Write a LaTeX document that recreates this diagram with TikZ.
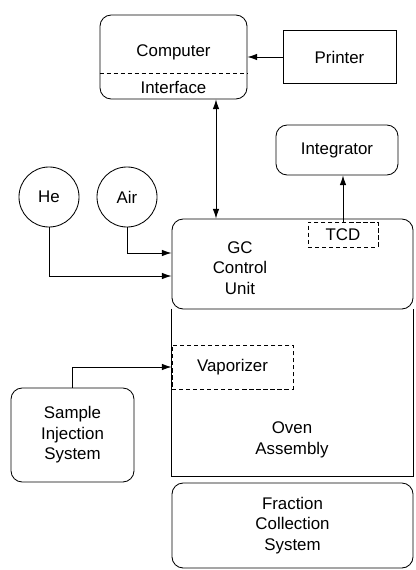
\documentclass[tikz,border=0pt]{standalone}
\usepackage{fontspec}
\setmainfont{Liberation Sans}
\usetikzlibrary{arrows.meta}
\begin{document}
\begin{tikzpicture}[x=0.025cm,y=-0.025cm,line width=0.6pt,
  every node/.style={font=\fontsize{12}{14.5}\selectfont,align=center,inner sep=0pt},
  rbox/.style={draw,rounded corners=8pt},
  sbox/.style={draw},
  dbox/.style={draw,dash pattern=on 3pt off 2pt},
  gas/.style={draw,circle,minimum size=1.5cm},
  arr/.style={-{Latex[length=2.4mm,width=1.6mm]}},
  arrboth/.style={{Latex[length=2.4mm,width=1.6mm]}-{Latex[length=2.4mm,width=1.6mm]}}]
\useasboundingbox (0,0) rectangle (415,570);
% computer and printer
\node[rbox,minimum width=3.675cm,minimum height=2.1cm] (comp) at (173.5,57) {};
\node (comptxt) at (173.5,52) {Computer};
\node (iftxt) at (173.5,87) {Interface};
\coordinate (split) at (0,73);
\draw[dash pattern=on 3pt off 2pt] (comp.west |- split) -- (comp.east |- split);
\node[sbox,minimum width=2.825cm,minimum height=1.325cm] (printer) at (339.5,57) {Printer};
% integrator, gases
\node[rbox,minimum width=3.05cm,minimum height=1.25cm] (integ) at (337,150) {Integrator};
\node[gas] (he) at (49,197) {He};
\node[gas] (air) at (127,197) {Air};
% GC unit, oven
\node[rbox,minimum width=6.025cm,minimum height=2.25cm] (gc) at (292.5,264) {};
\node (gctxt) at (240,268) {GC\\Control\\Unit};
\node[dbox,minimum width=1.75cm,minimum height=0.625cm] (tcd) at (343,234.5) {TCD};
\node[minimum width=6.025cm,minimum height=4.175cm] (oven) at (292.5,392.5) {};
\draw (oven.north west) -- (oven.south west) -- (oven.south east) -- (oven.north east);
\node (oventxt) at (292,440) {Oven\\Assembly};
\node[dbox,minimum width=3.025cm,minimum height=1.1cm] (vap) at (232.5,367) {Vaporizer};
\node[rbox,minimum width=3.075cm,minimum height=2.35cm] (sample) at (72.5,435) {Sample\\Injection\\System};
\node[rbox,minimum width=6.025cm,minimum height=2.125cm] (frac) at (292.5,525.5) {Fraction\\Collection\\System};
% connections
\coordinate (bus) at (216,0);
\draw[arr] (printer.west) -- (printer.west -| comp.east);
\draw[arrboth] (comp.south -| bus) -- (gc.north -| bus);
\draw[arr] (tcd.north) -- (tcd.north |- integ.south);
\draw[arr] (air.south) |- ([yshift=0.275cm]gc.west);
\draw[arr] (he.south) |- ([yshift=-0.3cm]gc.west);
\draw[arr] (sample.north) |- (vap.west);
\end{tikzpicture}
\end{document}
